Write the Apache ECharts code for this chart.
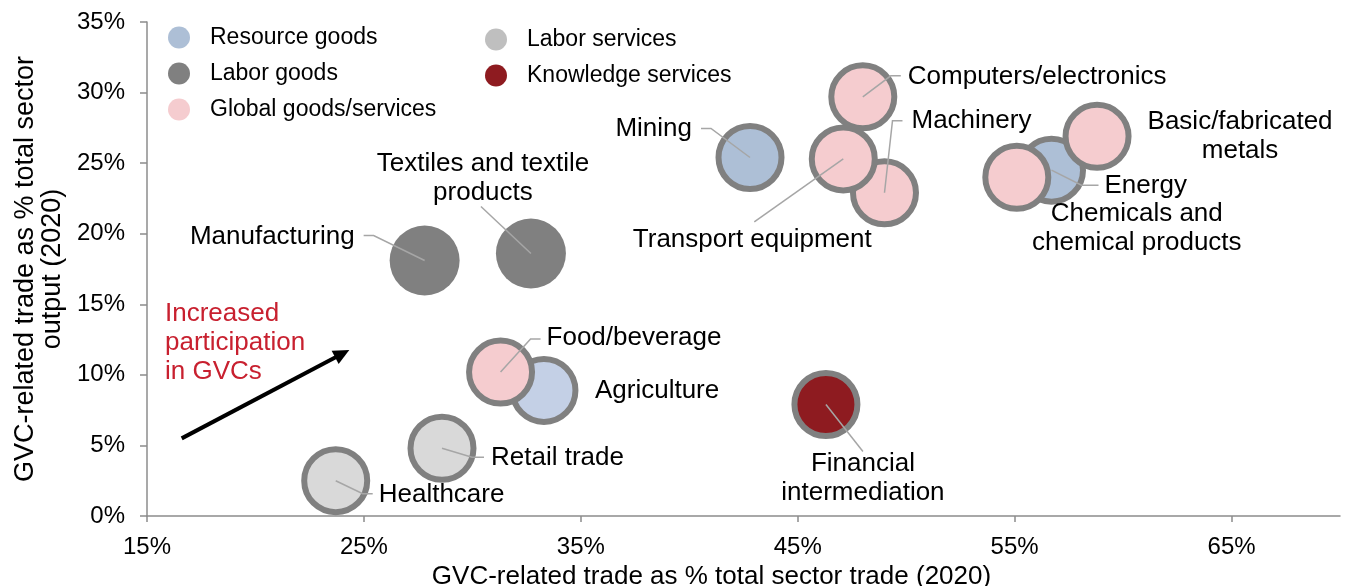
<!DOCTYPE html>
<html>
<head>
<meta charset="utf-8">
<script src="https://cdn.jsdelivr.net/npm/echarts@6/dist/echarts.min.js"></script>
<style>
  html, body { margin: 0; padding: 0; background: #ffffff; }
  #chart { width: 1349px; height: 586px; }
</style>
</head>
<body>
<div id="chart"></div>
<script>
"use strict";

// Sectors
var sectors = ['Mining', 'Energy', 'Agriculture',
  'Manufacturing', 'Textiles and textile products',
  'Food/beverage', 'Chemicals and chemical products', 'Basic/fabricated metals',
  'Machinery', 'Transport equipment', 'Computers/electronics',
  'Healthcare', 'Retail trade',
  'Financial intermediation'];
var groupOf = ['Resource goods', 'Resource goods', 'Resource goods',
  'Labor goods', 'Labor goods',
  'Global goods/services', 'Global goods/services', 'Global goods/services',
  'Global goods/services', 'Global goods/services', 'Global goods/services',
  'Labor services', 'Labor services',
  'Knowledge services'];
// GVC-related trade as % of total sector trade
var tradeShare = [42.8, 56.7, 33.3, 27.8, 32.7, 31.3, 55.1, 58.8, 49.0, 47.1, 48.0, 23.7, 28.6, 46.3];
// GVC-related trade as % of total sector output
var outputShare = [25.4, 24.5, 8.9, 18.1, 18.6, 10.2, 24.0, 26.9, 22.9, 25.3, 29.7, 2.5, 4.8, 7.9];

var groups = ['Resource goods', 'Labor goods', 'Global goods/services', 'Labor services', 'Knowledge services'];
var xTicks = [15, 25, 35, 45, 55, 65];
var arrowFrom = [16.6, 5.5];
var arrowTo = [24.0, 11.5];

// styles
var groupColor = {
  'Resource goods': '#adbfd6',
  'Labor goods': '#808080',
  'Global goods/services': '#f5cccf',
  'Labor services': '#d9d9d9',
  'Knowledge services': '#8e1b20'
};
var legendColor = {
  'Labor services': '#bfbfbf'
};
var FONT = 'Liberation Sans, Arial, sans-serif';

// label placement (pixel offsets from bubble centre) and leader lines
var labelCfg = {
  'Mining': { dx: -58, dy: -29, align: 'right', line: [[-39, -29], [-49, -29]] },
  'Energy': { dx: 53, dy: 16, align: 'left', line: [[30, 15], [47, 15]] },
  'Agriculture': { dx: 51, dy: 0, align: 'left' },
  'Manufacturing': { dx: -70, dy: -24, align: 'right', line: [[-51, -25], [-61, -25]] },
  'Textiles and textile products': { text: 'Textiles and textile\nproducts', dx: -48, dy: -75, align: 'center', line: [[-50, -47]] },
  'Food/beverage': { dx: 46, dy: -34, align: 'left', line: [[30, -33], [40, -33]] },
  'Chemicals and chemical products': { text: 'Chemicals and\nchemical products', dx: 120, dy: 51, align: 'center' },
  'Basic/fabricated metals': { text: 'Basic/fabricated\nmetals', dx: 143, dy: 0, align: 'center' },
  'Machinery': { dx: 27, dy: -72, align: 'left', line: [[8, -72], [18, -72]] },
  'Transport equipment': { dx: -91, dy: 81, align: 'center', line: [[-89, 63]] },
  'Computers/electronics': { dx: 45, dy: -20, align: 'left', line: [[28, -21], [38, -21]] },
  'Healthcare': { dx: 43, dy: 14, align: 'left', line: [[27, 13], [37, 13]] },
  'Retail trade': { dx: 49, dy: 10, align: 'left', line: [[30, 9], [42, 9]] },
  'Financial intermediation': { text: 'Financial\nintermediation', dx: 37, dy: 74, align: 'center', line: [[37, 47]] }
};
var itemColor = { 'Agriculture': '#c4d0e6' };

var chart = echarts.init(document.getElementById('chart'));

var series = groups.map(function (g) {
  var data = [];
  sectors.forEach(function (s, i) {
    if (groupOf[i] !== g) return;
    var cfg = labelCfg[s];
    var item = {
      name: s,
      value: [tradeShare[i], outputShare[i]],
      label: {
        formatter: cfg.text || s,
        offset: [cfg.dx, cfg.dy],
        align: cfg.align
      }
    };
    if (itemColor[s]) item.itemStyle = { color: itemColor[s] };
    data.push(item);
  });
  var bordered = g !== 'Labor goods';
  return {
    name: g,
    type: 'scatter',
    symbol: 'circle',
    symbolSize: bordered ? 63 : 70,
    itemStyle: {
      color: groupColor[g],
      opacity: 1,
      borderColor: '#808080',
      borderWidth: bordered ? 6 : 0
    },
    label: {
      show: true,
      position: 'inside',
      verticalAlign: 'middle',
      color: '#000',
      fontFamily: FONT,
      fontSize: 26,
      lineHeight: 29
    },
    emphasis: { disabled: true },
    data: data
  };
});

// leader lines drawn over the bubbles
series.push({
  name: 'leaders',
  type: 'custom',
  z: 5,
  silent: true,
  data: sectors.map(function (s, i) { return [tradeShare[i], outputShare[i], i]; }),
  encode: { x: 0, y: 1 },
  renderItem: function (params, api) {
    var cfg = labelCfg[sectors[api.value(2)]];
    if (!cfg.line) return null;
    var c = api.coord([api.value(0), api.value(1)]);
    var pts = [c].concat(cfg.line.map(function (p) { return [c[0] + p[0], c[1] + p[1]]; }));
    return {
      type: 'polyline',
      shape: { points: pts },
      style: { stroke: '#a6a6a6', lineWidth: 1.5, fill: null }
    };
  },
  markLine: {
    silent: true,
    symbol: ['none', 'triangle'],
    symbolSize: [15, 16],
    label: { show: false },
    lineStyle: { color: '#000', width: 4, type: 'solid' },
    data: [[{ coord: arrowFrom }, { coord: arrowTo }]]
  }
});

var legendBase = {
  orient: 'vertical',
  itemWidth: 26,
  itemHeight: 22,
  itemGap: 13,
  icon: 'circle',
  selectedMode: false,
  itemStyle: { borderWidth: 0 },
  textStyle: { fontFamily: FONT, fontSize: 23, color: '#000', padding: [0, 0, 0, 13] }
};

var option = {
  backgroundColor: '#ffffff',
  animation: false,
  grid: {
    left: 147,
    right: 9,
    top: 22,
    bottom: 70,
    containLabel: false,
    outerBoundsMode: 'none'
  },
  legend: [
    Object.assign({}, legendBase, {
      left: 163,
      top: 21,
      data: groups.slice(0, 3).map(function (g) {
        return { name: g, itemStyle: { color: legendColor[g] || groupColor[g], borderWidth: 0 } };
      })
    }),
    Object.assign({}, legendBase, {
      left: 480,
      top: 23,
      data: groups.slice(3).map(function (g) {
        return { name: g, itemStyle: { color: legendColor[g] || groupColor[g], borderWidth: 0 } };
      })
    })
  ],
  xAxis: {
    type: 'value',
    min: 15,
    max: 70,
    name: 'GVC-related trade as % total sector trade (2020)',
    nameLocation: 'middle',
    nameGap: 44,
    nameTextStyle: { fontFamily: FONT, fontSize: 26, color: '#000', padding: [0, 64, 0, 0] },
    axisLine: { show: true, lineStyle: { color: '#8c8c8c', width: 1.5 } },
    axisTick: { show: true, length: 6, customValues: xTicks, lineStyle: { color: '#8c8c8c', width: 1.5 } },
    axisLabel: {
      customValues: xTicks,
      formatter: '{value}%',
      margin: 19,
      fontFamily: FONT,
      fontSize: 24,
      color: '#000'
    },
    splitLine: { show: false }
  },
  yAxis: {
    type: 'value',
    min: 0,
    max: 35,
    interval: 5,
    name: 'GVC-related trade as % total sector\noutput (2020)',
    nameLocation: 'middle',
    nameGap: 78,
    nameTextStyle: { fontFamily: FONT, fontSize: 27, color: '#000', lineHeight: 27 },
    axisLine: { show: true, lineStyle: { color: '#8c8c8c', width: 1.5 } },
    axisTick: { show: true, length: 7, lineStyle: { color: '#8c8c8c', width: 1.5 } },
    axisLabel: {
      formatter: '{value}%',
      margin: 22,
      fontFamily: FONT,
      fontSize: 24,
      color: '#000'
    },
    splitLine: { show: false }
  },
  graphic: [{
    type: 'text',
    left: 165,
    top: 299,
    silent: true,
    style: {
      text: 'Increased\nparticipation\nin GVCs',
      font: '26px Liberation Sans, Arial, sans-serif',
      fill: '#c8202f',
      lineHeight: 29
    }
  }],
  series: series
};

chart.setOption(option);
</script>
</body>
</html>
